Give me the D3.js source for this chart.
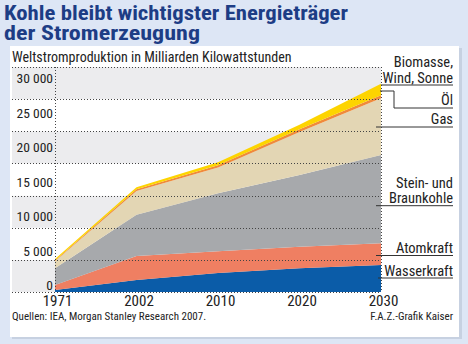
<!DOCTYPE html>
<html><head><meta charset="utf-8">
<script src="https://cdn.jsdelivr.net/npm/d3@7"></script>
<style>
html,body{margin:0;padding:0;background:#dde6f5;}
svg{display:block;}
.n{font-family:"Liberation Sans Narrow","Arial Narrow","Roboto Condensed","DejaVu Sans Condensed",sans-serif;}
</style></head>
<body>
<svg id="c" width="468" height="344"></svg>
<script>
// ---- data ----
const years = [1971, 2002, 2010, 2020, 2030];
const wasserkraft = [300, 1850, 2950, 3700, 4200];
const atomkraft   = [800, 3750, 3400, 3350, 3400];
const kohle       = [2600, 6400, 9000, 11150, 13700];
const gas         = [1100, 3700, 4000, 6700, 8850];
const oel         = [100, 300, 350, 400, 450];
const erneuerbare = [250, 300, 500, 700, 1800];
const seriesNames = ["Wasserkraft", "Atomkraft", "Kohle", "Gas", "Öl", "Erneuerbare"];
const yTickValues = [0, 5000, 10000, 15000, 20000, 25000, 30000];
const title = ["Kohle bleibt wichtigster Energieträger", "der Stromerzeugung"];
const subtitle = "Weltstromproduktion in Milliarden Kilowattstunden";
const source = "Quellen: IEA, Morgan Stanley Research 2007.";
const credit = "F.A.Z.-Grafik Kaiser";

// ---- styles / layout ----
const colors = {"Wasserkraft":"#0b5ca8","Atomkraft":"#ef7f62","Kohle":"#a7a9ac","Gas":"#e3d6b4","Öl":"#f08a3a","Erneuerbare":"#fdd400"};
const legend = [
  {lines:["Biomasse,","Wind, Sonne"], base:[67,82.7], ly:85, x0:381},
  {lines:["Öl"], base:[105], ly:108, x0:380, elbow:{y:91, x:394}},
  {lines:["Gas"], base:[123.5], ly:127, x0:376},
  {lines:["Stein- und","Braunkohle"], base:[188,203], ly:205.7, x0:376},
  {lines:["Atomkraft"], base:[253], ly:255.5, x0:376},
  {lines:["Wasserkraft"], base:[275.5], ly:278, x0:378}
];

const svg = d3.select("#c");
// panel with shadow
svg.append("rect").attr("x",12).attr("y",48).attr("width",450).attr("height",291).attr("fill","#b9c3d3").attr("opacity",0.6);
svg.append("rect").attr("x",10).attr("y",46).attr("width",449).attr("height",291).attr("fill","#fff");

// title (one text element, two lines)
const tt = svg.append("text").attr("class","n").attr("font-size",21).attr("font-weight","bold").attr("fill","#1d3d85");
tt.selectAll("tspan").data(title).join("tspan")
  .attr("x",4).attr("y",(d,i)=>20+i*20)
  .attr("textLength",(d,i)=>i===0?344:196).attr("lengthAdjust","spacingAndGlyphs")
  .text(d=>d);

svg.append("text").attr("class","n").attr("x",12).attr("y",62).attr("font-size",14).attr("fill","#222")
  .text(subtitle);

const x = d3.scalePoint().domain(years).range([55,381]);
const y = d3.scaleLinear().domain([0,35000]).range([292,67]);
const yLab = d3.scaleLinear().domain([0,30000]).range([289.5,82.7]);
const fmt = d3.formatLocale({decimal:",",thousands:" ",grouping:[3],currency:["",""]}).format(",d");

// bands
const bandEdges = d3.range(0,35000,5000);
svg.append("g").selectAll("rect").data(bandEdges).join("rect")
  .attr("x",12).attr("width",381-12)
  .attr("y",d=>y(d+5000)).attr("height",d=>y(d)-y(d+5000))
  .attr("fill",(d,i)=>i%2===0?"#ececee":"#ffffff");

// stacked areas
const table = years.map((yr,i)=>({year:yr,"Wasserkraft":wasserkraft[i],"Atomkraft":atomkraft[i],"Kohle":kohle[i],"Gas":gas[i],"Öl":oel[i],"Erneuerbare":erneuerbare[i]}));
const stacked = d3.stack().keys(seriesNames)(table);
const area = d3.area().x(d=>x(d.data.year)).y0(d=>y(d[0])).y1(d=>y(d[1]));
svg.append("g").selectAll("path").data(stacked).join("path")
  .attr("d",area).attr("fill",d=>colors[d.key]);

// dotted grid on top
const grid = svg.append("g").attr("stroke","#444").attr("stroke-width",1).attr("stroke-dasharray","1,2");
grid.selectAll("line.h").data(d3.range(0,35001,5000)).join("line")
  .attr("x1",12).attr("x2",381).attr("y1",d=>Math.round(y(d))+0.5).attr("y2",d=>Math.round(y(d))+0.5);
grid.selectAll("line.v").data([years[0], years[years.length-1]]).join("line")
  .attr("x1",d=>Math.round(x(d))+0.5).attr("x2",d=>Math.round(x(d))+0.5).attr("y1",y(35000)).attr("y2",y(0));

// y axis labels
const yAxis = d3.axisLeft(yLab).tickValues(yTickValues).tickSize(0).tickPadding(0).tickFormat(fmt);
const gy = svg.append("g").attr("transform","translate(53,0)").call(yAxis);
gy.select(".domain").remove();
gy.selectAll("text").attr("class","n").attr("font-size",13.5).attr("fill","#222").attr("dy",0)
  .attr("font-family",null);

// x axis labels
const xAxis = d3.axisBottom(x).tickSize(0).tickPadding(0).tickFormat(d=>String(d));
const gx = svg.append("g").attr("transform","translate(2,295)").call(xAxis);
gx.select(".domain").remove();
gx.selectAll("text").attr("class","n").attr("font-size",15).attr("fill","#222").attr("dy","0.71em")
  .attr("font-family",null);

// legend with leader lines
const lg = svg.append("g");
legend.forEach(l=>{
  const t = lg.append("text").attr("class","n").attr("text-anchor","end")
      .attr("font-size",14.5).attr("fill","#222");
  l.lines.forEach((s,i)=>{
    t.append("tspan").attr("x",453).attr("y",l.base[i]).text(s);
  });
  let pts;
  if(l.elbow){ pts=[[l.x0,l.elbow.y],[l.elbow.x,l.elbow.y],[l.elbow.x,l.ly],[453,l.ly]]; }
  else { pts=[[l.x0,l.ly],[453,l.ly]]; }
  lg.append("path").attr("d",d3.line()(pts)).attr("fill","none").attr("stroke","#333").attr("stroke-width",1);
});

// footer
svg.append("text").attr("class","n").attr("x",12).attr("y",320).attr("font-size",11).attr("fill","#222").text(source);
svg.append("text").attr("class","n").attr("x",453).attr("y",320).attr("font-size",11).attr("fill","#222").attr("text-anchor","end").text(credit);
</script>
</body></html>
